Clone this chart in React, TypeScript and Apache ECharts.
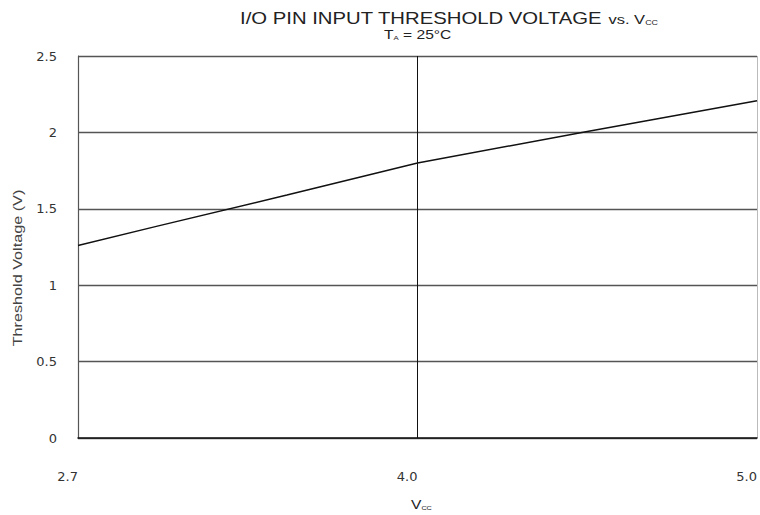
import React, { useEffect, useRef } from "react";
import * as echarts from "echarts";

// Supply voltage (V) and threshold voltage (V)
const vccValues = [2.7, 3.0, 3.5, 4.0, 4.5, 5.0];
const thresholdValues = [1.26, 1.385, 1.59, 1.8, 2.006, 2.207];
// x tick labels (the axis is drawn with equal spacing between these ticks)
const xTickLabels = ["2.7", "4.0", "5.0"];
const xTickValues = [2.7, 4.0, 5.0];

// piecewise position along the x axis: each tick interval gets equal width
function vccToPos(v: number): number {
  for (let i = 0; i < xTickValues.length - 1; i++) {
    const a = xTickValues[i];
    const b = xTickValues[i + 1];
    if (v <= b || i === xTickValues.length - 2) {
      return i + (v - a) / (b - a);
    }
  }
  return 0;
}

const FONT = "Liberation Sans";
const TICKFONT = "DejaVu Sans";

export default function App() {
  const ref = useRef<HTMLDivElement>(null);
  useEffect(() => {
    if (!ref.current) return;
    const chart = echarts.init(ref.current, undefined, { renderer: "svg" });
    const data = vccValues.map((v, i) => [vccToPos(v), thresholdValues[i]]);
    chart.setOption({
      animation: false,
      backgroundColor: "#fff",
      grid: { left: 78, right: 2, top: 56, bottom: 515 - 438, containLabel: false },
      graphic: [
        {
          type: "text",
          x: 240,
          y: 8,
          scaleX: 1.27,
          style: {
            text: "{m|I/O PIN INPUT THRESHOLD VOLTAGE }{v|vs. V}{s|CC}",
            verticalAlign: "top",
            align: "left",
            rich: {
              m: { fontFamily: FONT, fontSize: 16, fill: "#222", verticalAlign: "bottom", lineHeight: 18 },
              v: { fontFamily: FONT, fontSize: 13, fill: "#222", verticalAlign: "bottom", lineHeight: 18 },
              s: { fontFamily: FONT, fontSize: 7, fill: "#222", verticalAlign: "bottom", lineHeight: 14 },
            },
          },
        },
        {
          type: "text",
          x: 384,
          y: 27,
          scaleX: 1.3,
          style: {
            text: "{m|T}{s|A}{m| = 25°C}",
            verticalAlign: "top",
            align: "left",
            rich: {
              m: { fontFamily: FONT, fontSize: 12, fill: "#222", verticalAlign: "bottom", lineHeight: 14 },
              s: { fontFamily: FONT, fontSize: 6, fill: "#222", verticalAlign: "bottom", lineHeight: 10 },
            },
          },
        },
        {
          type: "text",
          x: 18,
          y: 268,
          rotation: Math.PI / 2,
          scaleX: 1.35,
          style: {
            text: "Threshold Voltage (V)",
            fontFamily: FONT,
            fontSize: 12,
            fill: "#444",
            align: "center",
            verticalAlign: "middle",
          },
        },
        {
          type: "text",
          x: 411,
          y: 496,
          scaleX: 1.2,
          style: {
            text: "{m|V}{s|CC}",
            verticalAlign: "top",
            align: "left",
            rich: {
              m: { fontFamily: FONT, fontSize: 13, fill: "#222", verticalAlign: "bottom", lineHeight: 15 },
              s: { fontFamily: FONT, fontSize: 6, fill: "#222", verticalAlign: "bottom", lineHeight: 10 },
            },
          },
        },
      ],
      xAxis: {
        type: "value",
        min: 0,
        max: xTickLabels.length - 1,
        interval: 1,
        axisLine: { show: true, lineStyle: { color: "#111", width: 1.5 } },
        axisTick: { show: false },
        axisLabel: {
          margin: 32,
          fontFamily: TICKFONT,
          fontSize: 13,
          color: "#333",
          align: "right",
          formatter: (v: number) => xTickLabels[Math.round(v)] ?? "",
        },
        splitLine: {
          show: true,
          lineStyle: { color: ["#555", "#111", "#bbb"], width: 1 },
        },
      },
      yAxis: {
        type: "value",
        min: 0,
        max: 2.5,
        interval: 0.5,
        axisLine: { show: true, lineStyle: { color: "#555", width: 1.2 } },
        axisTick: { show: false },
        axisLabel: {
          margin: 21,
          fontFamily: TICKFONT,
          fontSize: 13,
          color: "#333",
          formatter: (v: number) => String(v),
        },
        splitLine: { show: true, lineStyle: { color: "#555", width: 1.3 } },
      },
      series: [
        {
          type: "line",
          data,
          showSymbol: false,
          smooth: false,
          lineStyle: { color: "#111", width: 1.5 },
        },
      ],
    });
    return () => chart.dispose();
  }, []);
  return (
    <div
      ref={ref}
      style={{ position: "absolute", left: 0, top: 0, width: 760, height: 515 }}
    />
  );
}
